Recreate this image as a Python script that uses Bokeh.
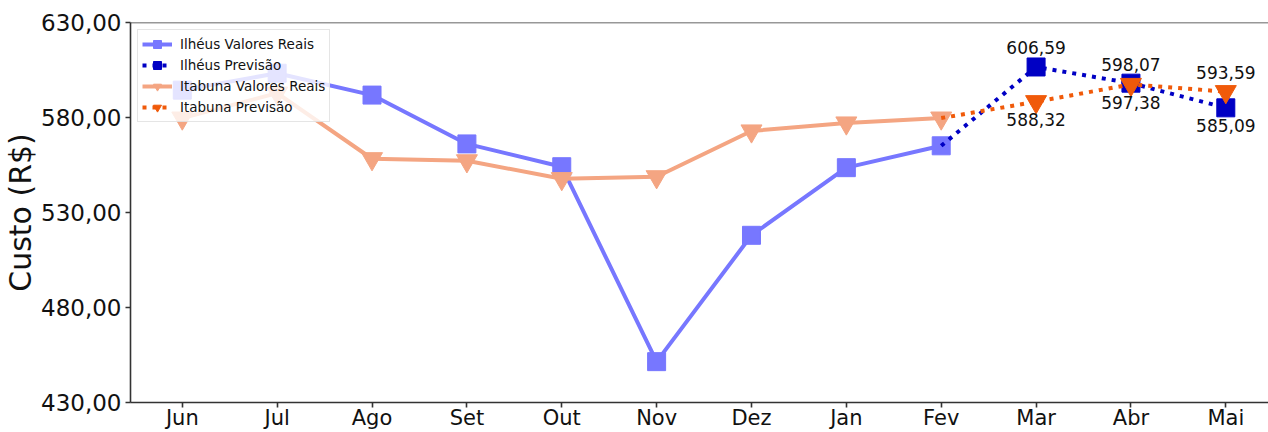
from bokeh.plotting import figure
from bokeh.models import (FixedTicker, CustomJSTickFormatter, Legend, LegendItem,
                          Range1d, Span)
from bokeh.embed import file_html
from bokeh.resources import INLINE
from bokeh.core.properties import value

months = ["Jun", "Jul", "Ago", "Set", "Out", "Nov", "Dez", "Jan", "Fev", "Mar", "Abr", "Mai"]
x_real = [0, 1, 2, 3, 4, 5, 6, 7, 8]
ilheus_real = [594.4, 603.3, 591.8, 566.1, 554.1, 451.5, 518.0, 553.6, 565.1]
itabuna_real = [579.7, 592.8, 558.3, 557.2, 547.8, 548.8, 572.9, 577.1, 579.7]
x_prev = [8, 9, 10, 11]
ilheus_prev = [565.1, 606.59, 598.07, 585.09]
itabuna_prev = [579.7, 588.32, 597.38, 593.59]
y_ticks = [430, 480, 530, 580, 630]

FONT = "DejaVu Sans"
C_IR = "#7777ff"
C_IP = "#0000c4"
C_TR = "#f4a582"
C_TP = "#f05a0a"

p = figure(width=1268, height=432, output_backend="svg", toolbar_location=None,
           x_range=Range1d(-0.546, 11.45), y_range=Range1d(430, 630),
           min_border_left=126, min_border_top=22, min_border_right=0, min_border_bottom=0)
p.outline_line_color = None
p.xgrid.visible = False
p.ygrid.visible = False

# axes
p.yaxis.ticker = FixedTicker(ticks=y_ticks)
p.yaxis.formatter = CustomJSTickFormatter(code="return tick.toFixed(2).replace('.', ',')")
p.xaxis.ticker = FixedTicker(ticks=list(range(len(months))))
p.xaxis.major_label_overrides = {i: m for i, m in enumerate(months)}
for ax in (p.xaxis[0], p.yaxis[0]):
    ax.axis_line_color = "#333333"
    ax.axis_line_width = 1.6
    ax.major_tick_line_color = "#333333"
    ax.major_tick_line_width = 1.6
    ax.major_tick_out = 5
    ax.major_tick_in = 0
    ax.minor_tick_line_color = None
    ax.major_label_text_font = FONT
    ax.major_label_text_color = "#111111"
p.xaxis.major_label_text_font_size = "21px"
p.xaxis.major_label_standoff = -2
p.yaxis.major_label_text_font_size = "23px"
p.yaxis.major_label_standoff = 4
p.yaxis.axis_label = "Custo (R$)"
p.yaxis.axis_label_text_font = FONT
p.yaxis.axis_label_text_font_size = "30px"
p.yaxis.axis_label_text_font_style = "normal"
p.yaxis.axis_label_text_color = "#111111"
p.yaxis.axis_label_standoff = 0

p.add_layout(Span(location=630, dimension="width", line_color="#333333", line_width=1.6))

# series
r1l = p.line(x_real, ilheus_real, line_color=C_IR, line_width=4)
r1m = p.scatter(x_real, ilheus_real, marker="square", size=18, fill_color=C_IR, line_color=C_IR)
r2l = p.line(x_prev, ilheus_prev, line_color=C_IP, line_width=4, line_dash="4 6")
r2m = p.scatter(x_prev[1:], ilheus_prev[1:], marker="square", size=18, fill_color=C_IP, line_color=C_IP)
r3l = p.line(x_real, itabuna_real, line_color=C_TR, line_width=4)
r3m = p.scatter(x_real, itabuna_real, marker="inverted_triangle", size=21, fill_color=C_TR, line_color=C_TR)
r4l = p.line(x_prev, itabuna_prev, line_color=C_TP, line_width=4, line_dash="4 6")
r4m = p.scatter(x_prev[1:], itabuna_prev[1:], marker="inverted_triangle", size=21, fill_color=C_TP, line_color=C_TP)

# value labels on forecasts
def fmt(v):
    return f"{v:.2f}".replace(".", ",")

ax_, ay_, at_, bx_, by_, bt_ = [], [], [], [], [], []
for xi, a, b in zip(x_prev[1:], ilheus_prev[1:], itabuna_prev[1:]):
    hi, lo = max(a, b), min(a, b)
    ax_.append(xi); ay_.append(hi); at_.append(fmt(hi))
    bx_.append(xi); by_.append(lo); bt_.append(fmt(lo))
p.text(x=ax_, y=ay_, text=at_, text_align="center", text_baseline="middle", y_offset=-19,
       text_font=value(FONT), text_font_size="17px", text_color="#111111")
p.text(x=bx_, y=by_, text=bt_, text_align="center", text_baseline="middle", y_offset=18,
       text_font=value(FONT), text_font_size="17px", text_color="#111111")

legend = Legend(items=[
    LegendItem(label="Ilhéus Valores Reais", renderers=[r1l, r1m]),
    LegendItem(label="Ilhéus Previsão", renderers=[r2l, r2m]),
    LegendItem(label="Itabuna Valores Reais", renderers=[r3l, r3m]),
    LegendItem(label="Itabuna Previsão", renderers=[r4l, r4m]),
], location="top_left")
legend.margin = 7
legend.padding = 4
legend.spacing = 1
legend.glyph_width = 30
legend.glyph_height = 20
legend.label_height = 20
legend.label_standoff = 8
legend.label_text_font = FONT
legend.label_text_font_size = "13.5px"
legend.label_text_color = "#111111"
legend.border_line_color = "#cccccc"
legend.border_line_width = 1
legend.background_fill_alpha = 0.8
p.add_layout(legend)

open("out.html", "w").write(file_html(p, INLINE))
